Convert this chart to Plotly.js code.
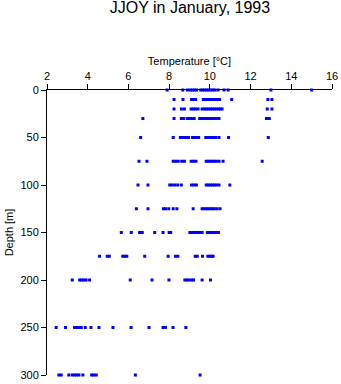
<!DOCTYPE html>
<html><head><meta charset="utf-8">
<script src="https://cdn.plot.ly/plotly-3.0.1.min.js"></script>
<style>html,body{margin:0;padding:0;background:#fff}</style>
</head><body>
<div id="chart" style="width:341px;height:384px"></div>
<script>
const depths = [0, 10, 20, 30, 50, 75, 100, 125, 150, 175, 200, 250, 300];
const t0 = [7.9, 8.67, 8.9, 9.05, 9.15, 9.25, 9.35, 9.55, 9.65, 9.75, 9.85, 9.95, 10.05, 10.15, 10.25, 10.4, 10.7, 10.9, 13.0, 15.0];
const t10 = [8.24, 8.68, 9.1, 9.2, 9.3, 9.68, 9.78, 9.88, 9.98, 10.08, 10.18, 10.28, 10.38, 10.48, 11.07, 12.85, 13.05];
const t20 = [8.24, 8.6, 8.75, 9.08, 9.2, 9.3, 9.42, 9.62, 9.72, 9.82, 9.92, 10.02, 10.12, 10.22, 10.32, 10.42, 10.52, 10.6, 12.82, 13.05];
const t30 = [6.71, 8.24, 8.6, 8.72, 8.9, 9.0, 9.1, 9.23, 9.5, 9.6, 9.72, 9.82, 9.92, 10.02, 10.12, 10.22, 10.32, 10.45, 12.78, 12.92];
const t50 = [6.6, 8.2, 8.55, 8.65, 8.75, 8.85, 8.95, 9.15, 9.25, 9.35, 9.45, 9.8, 9.9, 10.0, 10.1, 10.2, 10.3, 10.45, 10.92, 12.87];
const t75 = [6.52, 6.91, 8.2, 8.32, 8.45, 8.62, 8.75, 9.08, 9.2, 9.32, 9.82, 9.92, 10.02, 10.12, 10.22, 10.32, 10.45, 10.65, 12.57];
const t100 = [6.47, 6.96, 8.03, 8.15, 8.28, 8.42, 8.6, 9.1, 9.22, 9.34, 9.82, 9.92, 10.02, 10.12, 10.22, 10.32, 10.45, 10.98];
const t125 = [6.39, 6.96, 7.72, 7.82, 7.98, 8.2, 8.38, 9.18, 9.62, 9.72, 9.82, 9.92, 10.02, 10.12, 10.22, 10.35, 10.5];
const t150 = [5.65, 6.14, 6.55, 6.68, 7.29, 7.7, 8.0, 8.08, 9.02, 9.12, 9.22, 9.32, 9.42, 9.52, 9.62, 9.88, 9.98, 10.08, 10.18, 10.28, 10.42];
const t175 = [4.58, 4.96, 5.06, 5.72, 5.82, 5.92, 6.8, 7.95, 8.31, 8.43, 9.28, 9.38, 9.64, 9.9, 10.0, 10.1, 10.16];
const t200 = [3.24, 3.6, 3.7, 3.8, 3.92, 4.09, 6.09, 7.16, 7.99, 8.77, 8.87, 8.97, 9.1, 9.2, 9.62, 10.03];
const t250 = [2.45, 2.91, 3.35, 3.45, 3.55, 3.68, 3.88, 4.16, 4.55, 5.24, 6.13, 7.01, 7.7, 7.82, 8.19, 8.82];
const t300 = [2.58, 2.7, 3.07, 3.24, 3.35, 3.46, 3.57, 3.76, 4.19, 4.3, 4.42, 6.34, 9.52];
const temps = [t0, t10, t20, t30, t50, t75, t100, t125, t150, t175, t200, t250, t300];

const xs = [], ys = [];
depths.forEach((d, i) => { temps[i].forEach(t => { xs.push(t); ys.push(d); }); });

const font = {family: 'Liberation Sans, Arial, sans-serif', color: '#000'};
const data = [{
  type: 'scatter', mode: 'markers', x: xs, y: ys, cliponaxis: false,
  marker: {symbol: 'square', size: 3, color: 'rgb(0,0,255)', line: {width: 0}},
  hoverinfo: 'x+y'
}];
const layout = {
  width: 341, height: 384,
  margin: {l: 47, r: 9, t: 90, b: 9},
  paper_bgcolor: '#fff', plot_bgcolor: '#fff',
  showlegend: false,
  font: Object.assign({size: 11}, font),
  title: {text: 'JJOY in January, 1993', x: 0.557, xanchor: 'center', y: 0.995, yanchor: 'top',
          font: Object.assign({size: 16}, font)},
  xaxis: {
    side: 'top', range: [2, 16], tickvals: [2, 4, 6, 8, 10, 12, 14, 16],
    showgrid: false, zeroline: false, showline: true, linecolor: '#000', linewidth: 1,
    ticks: 'outside', ticklen: 5, tickcolor: '#000', tickwidth: 1,
    tickfont: Object.assign({size: 11}, font),
    title: {text: 'Temperature [°C]', font: Object.assign({size: 11}, font), standoff: 1}
  },
  yaxis: {
    range: [300, 0], tickvals: [0, 50, 100, 150, 200, 250, 300],
    showgrid: false, zeroline: false, showline: true, linecolor: '#000', linewidth: 1,
    ticks: 'outside', ticklen: 5, tickcolor: '#000', tickwidth: 1,
    tickfont: Object.assign({size: 11}, font),
    title: {text: 'Depth [m]', font: Object.assign({size: 11}, font), standoff: 4}
  }
};
Plotly.newPlot('chart', data, layout, {displayModeBar: false, staticPlot: true});
</script>
</body></html>
